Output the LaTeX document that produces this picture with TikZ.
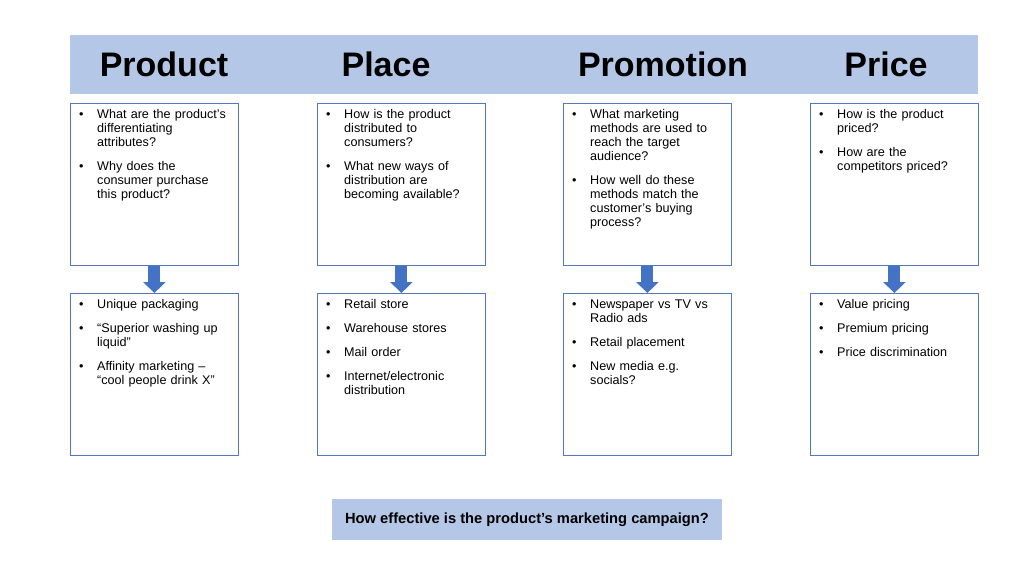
\documentclass[tikz,border=0pt]{standalone}
\usepackage{fontspec}
\setmainfont{Liberation Sans}
\usetikzlibrary{arrows.meta}
\definecolor{band}{RGB}{180,199,231}
\definecolor{edge}{RGB}{84,120,190}
\definecolor{arrowblue}{RGB}{68,114,196}
\newcommand{\itm}[1]{\noindent\hangindent=19pt\hangafter=1
  \hbox to 19pt{\hskip1pt\textbullet\hfil}{\let\\\newline#1}\par\vspace{10pt}}
\tikzset{
  qbox/.style={draw=edge, line width=0.8pt, fill=white, minimum width=168pt,
    minimum height=162pt, anchor=north west, inner sep=0pt},
  qtext/.style={anchor=north west, inner xsep=8pt, inner ysep=6.2pt, text width=164pt,
    align=left, font=\fontsize{12.6}{14}\selectfont},
  head/.style={anchor=base, font=\bfseries\fontsize{34}{40}\selectfont},
  blockarrow/.style={draw=arrowblue, line width=12pt, -{Triangle[width=22pt,length=11pt]}}
}
\begin{document}
\begin{tikzpicture}[x=1pt,y=-1pt]
  \useasboundingbox (0,0) rectangle (1024,576);
  \fill[band] (70,35) rectangle (978,94);
  \node[head] (h0) at (164,76) {Product};
  \node[head] (h1) at (386,76) {Place};
  \node[head] (h2) at (663,76) {Promotion};
  \node[head] (h3) at (886,76) {Price};
  % questions
  \node[qbox] (q0) at (70,103) {};
  \node[qbox] (q1) at (317,103) {};
  \node[qbox] (q2) at (563,103) {};
  \node[qbox] (q3) at (810,103) {};
  \node[qtext] at (q0.north west) {\itm{What are the product’s\\differentiating\\attributes?}\itm{Why does the\\consumer purchase\\this product?}};
  \node[qtext] at (q1.north west) {\itm{How is the product\\distributed to\\consumers?}\itm{What new ways of\\distribution are\\becoming available?}};
  \node[qtext] at (q2.north west) {\itm{What marketing\\methods are used to\\reach the target\\audience?}\itm{How well do these\\methods match the\\customer’s buying\\process?}};
  \node[qtext] at (q3.north west) {\itm{How is the product\\priced?}\itm{How are the\\competitors priced?}};
  % answers
  \node[qbox] (a0) at (70,293) {};
  \node[qbox] (a1) at (317,293) {};
  \node[qbox] (a2) at (563,293) {};
  \node[qbox] (a3) at (810,293) {};
  \node[qtext] at (a0.north west) {\itm{Unique packaging}\itm{“Superior washing up\\liquid”}\itm{Affinity marketing –\\“cool people drink X”}};
  \node[qtext] at (a1.north west) {\itm{Retail store}\itm{Warehouse stores}\itm{Mail order}\itm{Internet/electronic\\distribution}};
  \node[qtext] at (a2.north west) {\itm{Newspaper vs TV vs\\Radio ads}\itm{Retail placement}\itm{New media e.g.\\socials?}};
  \node[qtext] at (a3.north west) {\itm{Value pricing}\itm{Premium pricing}\itm{Price discrimination}};
  \draw[blockarrow] (q0) to (a0);
  \draw[blockarrow] (q1) to (a1);
  \draw[blockarrow] (q2) to (a2);
  \draw[blockarrow] (q3) to (a3);
  \node[fill=band, minimum width=390pt, minimum height=41pt,
    font=\bfseries\fontsize{14.7}{17}\selectfont] (ask) at (527,519.5)
    {How effective is the product’s marketing campaign?};
\end{tikzpicture}
\end{document}
